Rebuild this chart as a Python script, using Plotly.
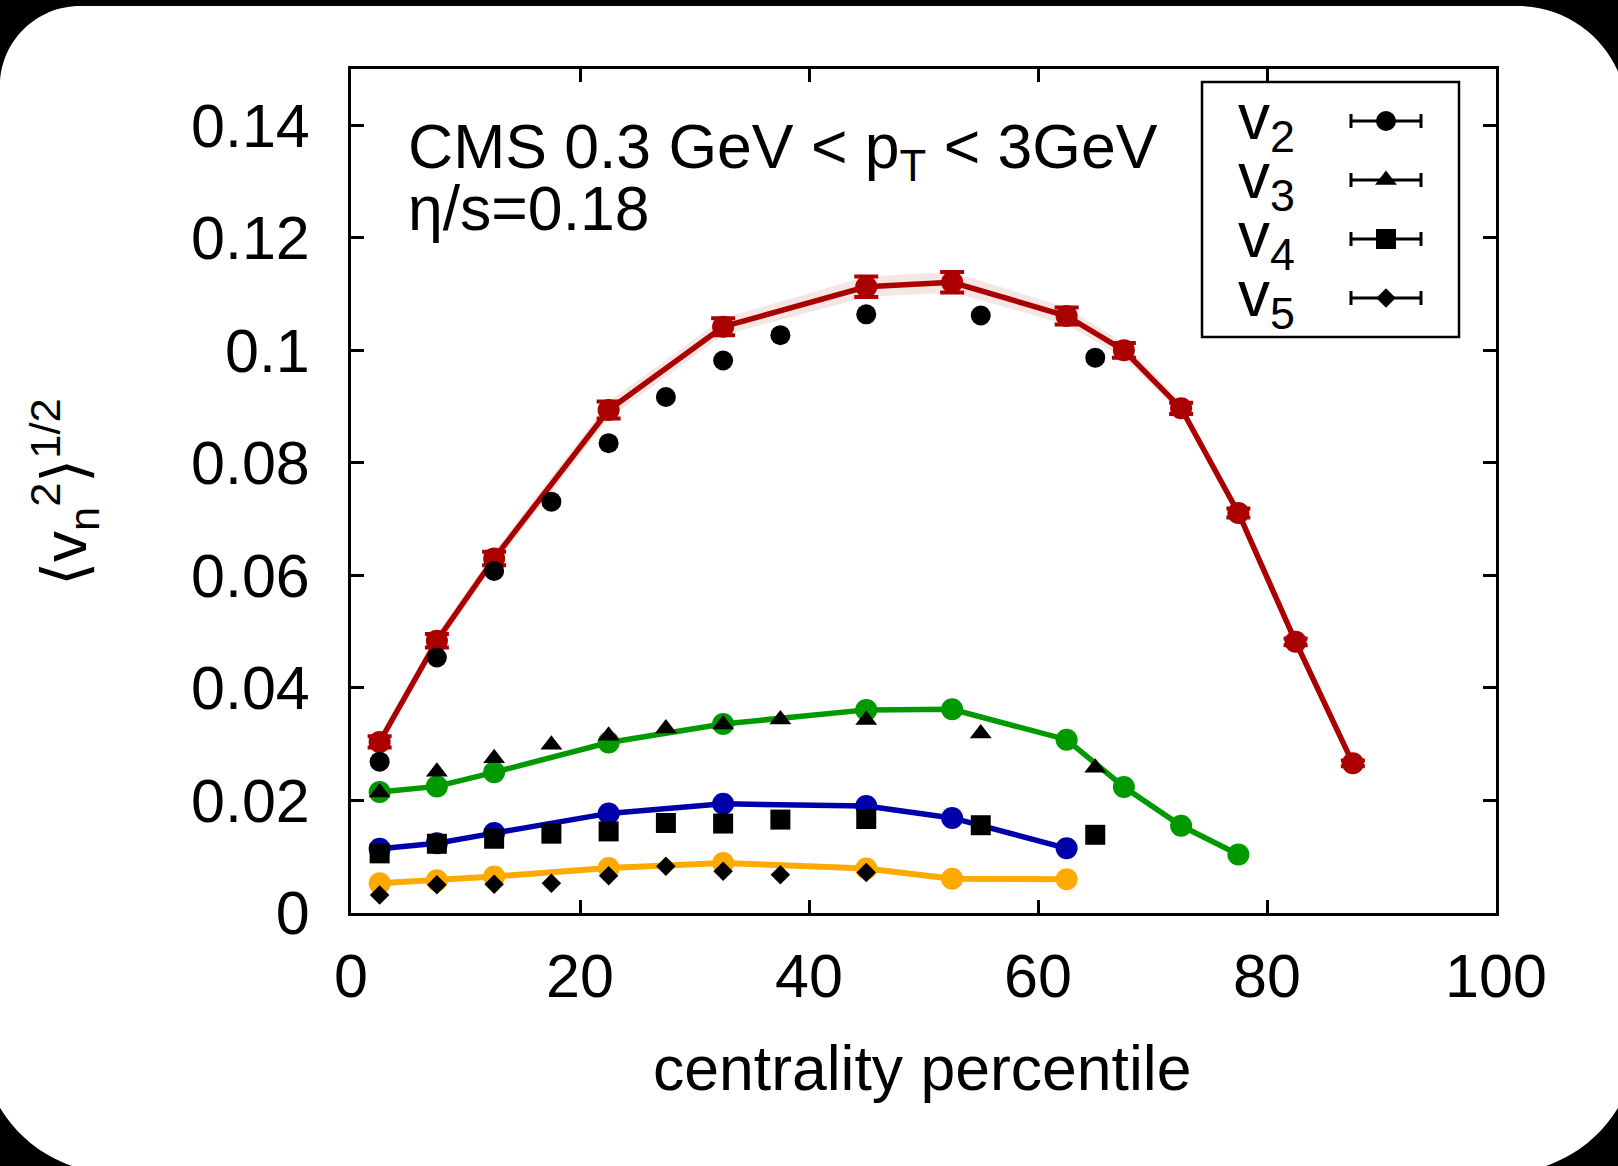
import plotly.graph_objects as go

# ---------------- data ----------------
cent_hydro = [2.5, 7.5, 12.5, 22.5, 32.5, 45, 52.5, 62.5, 67.5, 72.5, 77.5, 82.5, 87.5]
hydro_v2 = [0.0304, 0.0484, 0.0630, 0.0894, 0.1042, 0.1113, 0.1121, 0.1061, 0.1000, 0.0897, 0.0711, 0.0482, 0.0266]
hydro_v2_err = [0.0010, 0.0012, 0.0012, 0.0015, 0.0015, 0.0018, 0.0018, 0.0015, 0.0013, 0.0010, 0.0008, 0.0006, 0.0005]
cent_hydro_v3 = [2.5, 7.5, 12.5, 22.5, 32.5, 45, 52.5, 62.5, 67.5, 72.5, 77.5]
hydro_v3 = [0.0215, 0.0225, 0.0250, 0.0303, 0.0336, 0.0361, 0.0362, 0.0308, 0.0224, 0.0155, 0.0104]
cent_hydro_v45 = [2.5, 7.5, 12.5, 22.5, 32.5, 45, 52.5, 62.5]
hydro_v4 = [0.0114, 0.0124, 0.0142, 0.0177, 0.0194, 0.0190, 0.0169, 0.0115]
hydro_v5 = [0.0053, 0.0058, 0.0065, 0.0080, 0.0089, 0.0079, 0.0061, 0.0060]

cms_cent = [2.5, 7.5, 12.5, 17.5, 22.5, 27.5, 32.5, 37.5, 45, 55, 65]
cms_v2 = [0.0269, 0.0454, 0.0608, 0.0731, 0.0835, 0.0917, 0.0982, 0.1027, 0.1064, 0.1062, 0.0987]
cms_v3 = [0.0214, 0.0251, 0.0275, 0.0299, 0.0315, 0.0328, 0.0335, 0.0344, 0.0343, 0.0319, 0.0258]
cms_v4 = [0.0106, 0.0123, 0.0132, 0.0141, 0.0145, 0.0160, 0.0159, 0.0166, 0.0167, 0.0156, 0.0139]
cms_cent_v5 = [2.5, 7.5, 12.5, 17.5, 22.5, 27.5, 32.5, 37.5, 45]
cms_v5 = [0.0032, 0.0050, 0.0051, 0.0053, 0.0066, 0.0083, 0.0074, 0.0068, 0.0072]

x_ticks = [0, 20, 40, 60, 80, 100]
y_ticks = [0, 0.02, 0.04, 0.06, 0.08, 0.1, 0.12, 0.14]
y_tick_text = ["0", "0.02", "0.04", "0.06", "0.08", "0.1", "0.12", "0.14"]

legend_labels = ["v<sub>2</sub>", "v<sub>3</sub>", "v<sub>4</sub>", "v<sub>5</sub>"]
legend_symbols = ["circle", "triangle-up", "square", "diamond"]
legend_sizes = [20, 19, 20, 15]

# ---------------- layout geometry (pixels) ----------------
W, H = 1618, 1166
PL, PR, PT, PB = 351, 1496, 69, 913
FONT = "Liberation Sans, Arial, Helvetica, sans-serif"

RED = "#aa0000"
GREEN = "#009900"
BLUE = "#0000aa"
ORANGE = "#ffaa00"

fig = go.Figure()

# band around red curve
upper = [v + e for v, e in zip(hydro_v2, hydro_v2_err)]
lower = [v - e for v, e in zip(hydro_v2, hydro_v2_err)]
fig.add_trace(go.Scatter(x=cent_hydro + cent_hydro[::-1], y=upper + lower[::-1],
                         fill="toself", fillcolor="rgba(170,0,0,0.10)",
                         line=dict(width=0), mode="lines", hoverinfo="skip", showlegend=False))

fig.add_trace(go.Scatter(x=cent_hydro, y=hydro_v2, mode="lines+markers",
                         line=dict(color=RED, width=5.5),
                         marker=dict(symbol="circle", size=22, color=RED),
                         error_y=dict(type="data", array=hydro_v2_err, color=RED, thickness=4, width=12),
                         showlegend=False))
fig.add_trace(go.Scatter(x=cent_hydro_v3, y=hydro_v3, mode="lines+markers",
                         line=dict(color=GREEN, width=5.5),
                         marker=dict(symbol="circle", size=22, color=GREEN), showlegend=False))
fig.add_trace(go.Scatter(x=cent_hydro_v45, y=hydro_v4, mode="lines+markers",
                         line=dict(color=BLUE, width=5.5),
                         marker=dict(symbol="circle", size=22, color=BLUE), showlegend=False))
fig.add_trace(go.Scatter(x=cent_hydro_v45, y=hydro_v5, mode="lines+markers",
                         line=dict(color=ORANGE, width=6),
                         marker=dict(symbol="circle", size=22, color=ORANGE), showlegend=False))

# CMS data
fig.add_trace(go.Scatter(x=cms_cent, y=cms_v2, mode="markers",
                         marker=dict(symbol="circle", size=20, color="black"), showlegend=False))
fig.add_trace(go.Scatter(x=cms_cent, y=cms_v3, mode="markers",
                         marker=dict(symbol="triangle-up", size=19, color="black"), showlegend=False))
fig.add_trace(go.Scatter(x=cms_cent, y=cms_v4, mode="markers",
                         marker=dict(symbol="square", size=20, color="black"), showlegend=False))
fig.add_trace(go.Scatter(x=cms_cent_v5, y=cms_v5, mode="markers",
                         marker=dict(symbol="diamond", size=15, color="black"), showlegend=False))

# ---------------- hand-built legend on a pixel overlay axis ----------------
leg_rows_y = [121, 180, 239, 298]
leg_marker_x = 1386
for ly, sym, sz in zip(leg_rows_y, legend_symbols, legend_sizes):
    fig.add_trace(go.Scatter(x=[leg_marker_x], y=[ly], xaxis="x2", yaxis="y2", mode="markers",
                             marker=dict(symbol=sym, size=sz, color="black"),
                             error_x=dict(type="constant", value=35, color="black", thickness=3, width=7),
                             showlegend=False, hoverinfo="skip"))

annotations = []
for ly, lab in zip(leg_rows_y, legend_labels):
    annotations.append(dict(x=1236, y=ly, xref="x2", yref="y2", text=lab, showarrow=False,
                            xanchor="left", yanchor="middle", font=dict(family=FONT, size=64, color="black")))

annotations.append(dict(x=406, y=150, xref="x2", yref="y2",
                        text="CMS 0.3 GeV &lt; p<sub>T</sub> &lt; 3GeV", showarrow=False,
                        xanchor="left", yanchor="middle", font=dict(family=FONT, size=62.5, color="black")))
annotations.append(dict(x=406, y=208, xref="x2", yref="y2",
                        text="η/s=0.18", showarrow=False,
                        xanchor="left", yanchor="middle", font=dict(family=FONT, size=62.5, color="black")))

# axis titles
annotations.append(dict(x=(922 - PL) / (PR - PL), y=(PB - 1068) / (PB - PT), xref="paper", yref="paper",
                        text="centrality percentile", showarrow=False, xanchor="center", yanchor="middle",
                        font=dict(family=FONT, size=62.5, color="black")))
annotations.append(dict(x=(64 - PL) / (PR - PL), y=(PB - 492) / (PB - PT), xref="paper", yref="paper",
                        text="⟨v<sub>n</sub><sup>2</sup>⟩<sup>1/2</sup>", showarrow=False, textangle=-90,
                        xanchor="center", yanchor="middle",
                        font=dict(family=FONT, size=62, color="black")))

# ---------------- shapes ----------------
def P(px, py):
    return f"{(px - PL) / (PR - PL):.5f},{(PB - py) / (PB - PT):.5f}"

k = 0.5523
Lt, T, rtl = 0, 6, 80
Rt, rtr = 1627, 109
Rb, B, rbr = 1637, 1173, 134
Lb, rbl = -19, 134
path = (
    f"M {P(Lt, T + rtl)} "
    f"C {P(Lt, T + rtl - k * rtl)} {P(Lt + rtl - k * rtl, T)} {P(Lt + rtl, T)} "
    f"L {P(Rt - rtr, T)} "
    f"C {P(Rt - rtr + k * rtr, T)} {P(Rt, T + rtr - k * rtr)} {P(Rt, T + rtr)} "
    f"L {P(Rb, B - rbr)} "
    f"C {P(Rb, B - rbr + k * rbr)} {P(Rb - rbr + k * rbr, B)} {P(Rb - rbr, B)} "
    f"L {P(Lb + rbl, B)} "
    f"C {P(Lb + rbl - k * rbl, B)} {P(Lb, B - rbr + k * rbl)} {P(Lb, B - rbl)} Z"
)
shapes = [
    dict(type="path", path=path, xref="paper", yref="paper", fillcolor="white",
         line=dict(width=0), layer="below"),
    dict(type="rect", x0=1202, x1=1459, y0=82, y1=337, xref="x2", yref="y2",
         line=dict(color="black", width=2.5), fillcolor="rgba(0,0,0,0)", layer="above"),
]

axis_common = dict(showgrid=False, zeroline=False, showline=True, linecolor="black", linewidth=3,
                   mirror="ticks", ticks="inside", ticklen=13, tickwidth=2.5, tickcolor="black",
                   tickfont=dict(family=FONT, size=61, color="black"))

fig.update_layout(
    width=W, height=H,
    margin=dict(l=PL, r=W - PR, t=PT, b=H - PB, autoexpand=False),
    paper_bgcolor="black", plot_bgcolor="white",
    xaxis=dict(range=[0, 100], tickvals=x_ticks, ticklabelstandoff=8, **axis_common),
    yaxis=dict(range=[0, 0.15], tickvals=y_ticks, ticktext=y_tick_text, ticklabelstandoff=26, **axis_common),
    xaxis2=dict(overlaying="x", range=[PL, PR], visible=False, fixedrange=True),
    yaxis2=dict(overlaying="y", range=[PB, PT], visible=False, fixedrange=True),
    annotations=annotations, shapes=shapes, showlegend=False,
)

fig.write_html("out.html")
